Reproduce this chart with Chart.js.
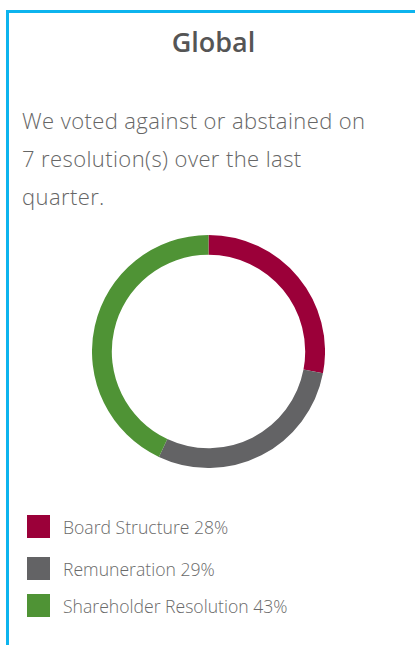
<!DOCTYPE html>
<html>
<head>
<meta charset="utf-8">
<script src="https://cdn.jsdelivr.net/npm/chart.js@4"></script>
<style>
  html, body { margin: 0; padding: 0; background: #fff; }
  body { width: 415px; height: 645px; position: relative; overflow: hidden; font-family: 'Open Sans', sans-serif; }
  .rule-top { position: absolute; left: 6px; top: 10px; width: 409px; height: 2.5px; background: #0db4ee; }
  .rule-left { position: absolute; left: 6px; top: 10px; width: 3px; height: 635px; background: #0db4ee; }
  h1 { position: absolute; left: 0; width: 427px; top: 27.7px; margin: 0; text-align: center;
       font-size: 27px; line-height: 27px; font-weight: 600; color: #555; }
  p.intro { position: absolute; left: 22px; top: 100.8px; width: 390px; margin: 0;
            font-size: 22px; line-height: 38px; letter-spacing: 0.4px; font-weight: 300; color: #666; }
  #chartWrap { position: absolute; left: 92px; top: 235px; width: 233px; height: 233px; }
  #legend { position: absolute; left: 27px; top: 515px; margin: 0; padding: 0; list-style: none; }
  #legend li { display: flex; align-items: center; height: 23px; margin-bottom: 16px;
               font-size: 17.6px; font-weight: 300; color: #6a6a6a; white-space: nowrap; }
  #legend li:nth-child(1) { margin-bottom: 19px; }
  #legend li:nth-child(2) { margin-bottom: 14px; }
  #legend .box { width: 23px; height: 23px; margin-right: 13px; flex: none; }
</style>
</head>
<body>
<div class="rule-top"></div>
<div class="rule-left"></div>
<h1>Global</h1>
<p class="intro">We voted against or abstained on<br>7 resolution(s) over the last<br>quarter.</p>
<div id="chartWrap"><canvas id="chartVotes" width="233" height="233"></canvas></div>
<ul id="legend"></ul>
<script>
const categories = ['Board Structure', 'Remuneration', 'Shareholder Resolution'];
const shares = [28, 29, 43];
const COLORS = ['#9b0039', '#636365', '#4f9335'];

new Chart(document.getElementById('chartVotes'), {
    type: 'doughnut',
    data: {
        labels: categories,
        datasets: [{
            data: shares,
            backgroundColor: COLORS,
            borderWidth: 0,
        }]
    },
    options: {
        responsive: false,
        animation: false,
        cutout: '83%',
        layout: { padding: 0 },
        plugins: { legend: { display: false }, tooltip: { enabled: false } }
    }
});

// legend built from the same arrays
const legend = document.getElementById('legend');
categories.forEach((name, i) => {
    const li = document.createElement('li');
    const box = document.createElement('span');
    box.className = 'box';
    box.style.background = COLORS[i];
    li.appendChild(box);
    li.appendChild(document.createTextNode(name + ' ' + shares[i] + '%'));
    legend.appendChild(li);
});
</script>
</body>
</html>
